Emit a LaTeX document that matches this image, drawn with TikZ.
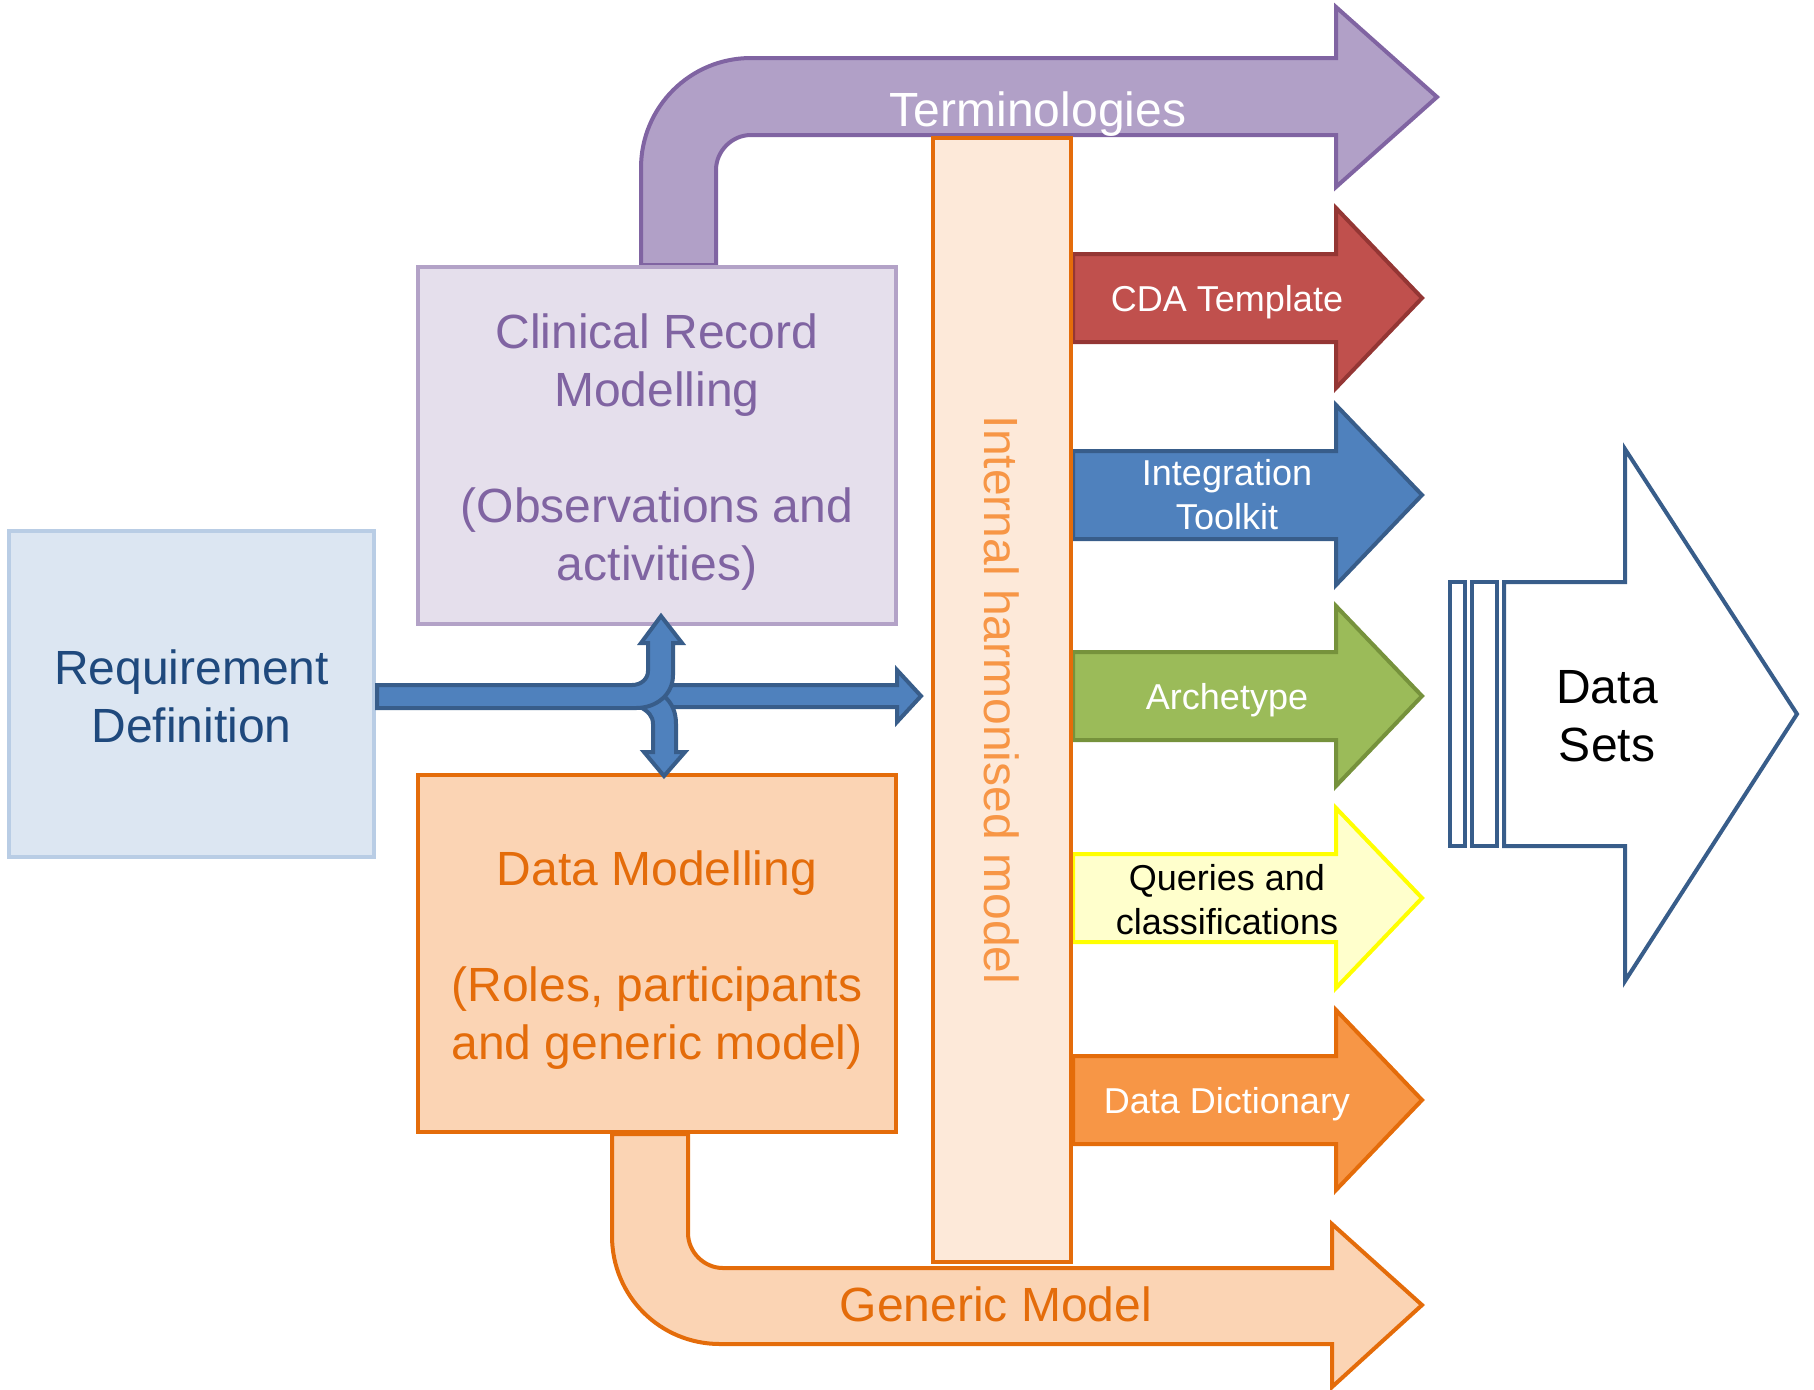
\documentclass[tikz,border=0pt]{standalone}
\usepackage{fontspec}
\setmainfont{Liberation Sans}
\definecolor{reqfill}{HTML}{DCE6F2}
\definecolor{reqdraw}{HTML}{B9CDE5}
\definecolor{reqtext}{HTML}{1F497D}
\definecolor{crmfill}{HTML}{E5DFEC}
\definecolor{crmdraw}{HTML}{B3A2C7}
\definecolor{violet}{HTML}{8064A2}
\definecolor{termfill}{HTML}{B1A0C7}
\definecolor{dmfill}{HTML}{FBD4B4}
\definecolor{orangedk}{HTML}{E46C0A}
\definecolor{orangelt}{HTML}{F79646}
\definecolor{ihmfill}{HTML}{FDE9D9}
\definecolor{cdafill}{HTML}{C0504D}
\definecolor{cdadraw}{HTML}{943634}
\definecolor{bluefill}{HTML}{4F81BD}
\definecolor{bluedraw}{HTML}{385D8A}
\definecolor{greenfill}{HTML}{9BBB59}
\definecolor{greendraw}{HTML}{76923C}
\definecolor{qryfill}{HTML}{FFFFCC}
\definecolor{qrydraw}{HTML}{FFFF00}
\begin{document}
\begin{tikzpicture}[x=0.5pt,y=-0.5pt,
  box/.style={draw,line width=2pt,inner sep=0pt},
  boxtext/.style={align=center,inner sep=0pt,font=\fontsize{24}{29}\selectfont},
  blockarrow/.style={line width=2pt},
  lbl/.style={align=center,font=\fontsize{18}{22}\selectfont}]
\useasboundingbox (0,0) rectangle (1814,1389);

% bent arrows top and bottom
\draw[blockarrow,fill=termfill,draw=violet] (641,265) -- (641,168) .. controls (641,107) and (690,58) .. (751,58)
  -- (1336,58) -- (1336,7) -- (1437,97) -- (1336,187) -- (1336,135) -- (751,135)
  .. controls (732,135) and (716,151) .. (716,170) -- (716,265) -- cycle;
\node[boxtext,text=white] (term) at (1038,114) {Terminologies};

\draw[blockarrow,fill=dmfill,draw=orangedk] (612,1134) -- (612,1236) .. controls (612,1296) and (660,1344) .. (720,1344)
  -- (1332,1344) -- (1332,1387) -- (1422,1305) -- (1332,1224) -- (1332,1268) -- (723,1268)
  .. controls (704,1268) and (688,1252) .. (688,1233) -- (688,1134) -- cycle;
\node[boxtext,text=orangedk] (gen) at (996,1304) {Generic Model};

% outputs of the internal model
\foreach \yc/\dy/\fc/\dc/\tc/\txt [count=\i] in {298/4/cdafill/cdadraw/white/{CDA Template},
    495/0/bluefill/bluedraw/white/{Integration\\Toolkit},
    696/4/greenfill/greendraw/white/{Archetype},
    898/2/qryfill/qrydraw/black/{Queries and\\classifications},
    1100/4/orangelt/orangedk/white/{Data Dictionary}}{
  \draw[blockarrow,fill=\fc,draw=\dc] (1073,{\yc-44}) -- (1336,{\yc-44}) -- (1336,{\yc-90})
    -- (1422,\yc) -- (1336,{\yc+90}) -- (1336,{\yc+44}) -- (1073,{\yc+44}) -- cycle;
  \node[lbl,text=\tc] (out\i) at (1227,{\yc+\dy}) {\txt};
}

% boxes
\node[box,fill=reqfill,draw=reqdraw,minimum width=182.5pt,minimum height=163pt] (req) at (191.5,694) {};
\node[boxtext,text=reqtext] (reqtxt) at ([yshift=-1pt]req.center) {Requirement\\Definition};
\node[box,fill=crmfill,draw=crmdraw,minimum width=239pt,minimum height=178.5pt] (crm) at (657,445.5) {};
\node[boxtext,text=violet] (crmtxt) at ([yshift=-3.5pt]crm.center)
  {Clinical Record\\Modelling\\[29pt](Observations and\\activities)};
\node[box,fill=dmfill,draw=orangedk,minimum width=239pt,minimum height=178.5pt] (dm) at (657,953.5) {};
\node[boxtext,text=orangedk] (dmtxt) at ([yshift=-3.5pt]dm.center)
  {Data Modelling\\[29pt](Roles, participants\\and generic model)};
\node[box,fill=ihmfill,draw=orangedk,text=orangelt,rotate=-90,minimum width=562pt,minimum height=69pt,
  font=\fontsize{24}{29}\selectfont] (ihm) at (1002,700) {Internal harmonised model};

% blue links from the requirements
\draw[blockarrow,fill=bluefill,draw=bluedraw] (660,685) -- (897,685) -- (897,670) -- (921,696)
  -- (897,722) -- (897,707) -- (660,707) -- cycle;
\draw[blockarrow,fill=bluefill,draw=bluedraw] (640,707) .. controls (648,711) and (653,716) .. (653,724)
  -- (653,752) -- (644,752) -- (664,776) -- (685,752) -- (676,752) -- (676,724)
  .. controls (676,712) and (672,703) .. (664,696) -- cycle;
\draw[blockarrow,fill=bluefill,draw=bluedraw] (377,685) -- (632,685) .. controls (641,685) and (648,679) .. (648,671)
  -- (648,643) -- (641,643) -- (661,616) -- (682,643) -- (673,643) -- (673,675)
  .. controls (673,695) and (656,708) .. (636,708) -- (377,708) -- cycle;

% data sets
\draw[blockarrow,draw=bluedraw,fill=white] (1450,582) rectangle (1465,846);
\draw[blockarrow,draw=bluedraw,fill=white] (1472,582) rectangle (1497,846);
\draw[blockarrow,draw=bluedraw,fill=white] (1504,582) -- (1625,582) -- (1625,449) -- (1797,714)
  -- (1625,981) -- (1625,846) -- (1504,846) -- cycle;
\node[boxtext] (sets) at (1607,716) {Data\\Sets};
\end{tikzpicture}
\end{document}
